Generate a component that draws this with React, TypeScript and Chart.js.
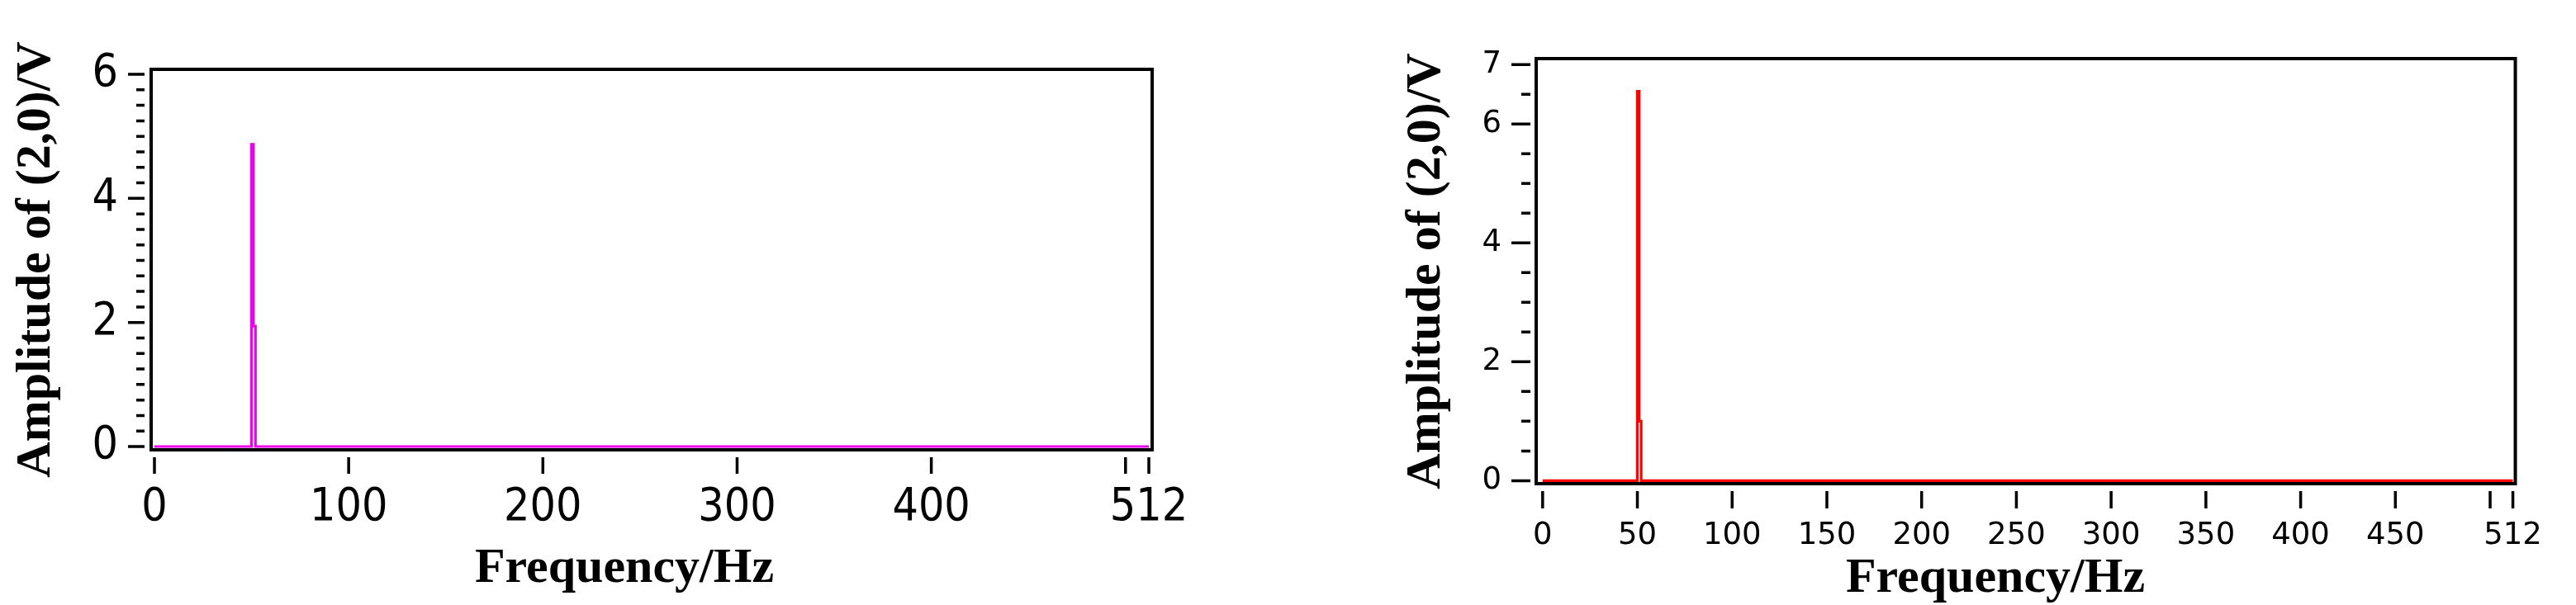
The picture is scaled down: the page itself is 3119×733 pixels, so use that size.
import React, { useEffect, useRef } from 'react';
import { Chart, registerables } from 'chart.js';

Chart.register(...registerables);

// ---- data ----
const freqLeft = [0, 49, 50, 51, 52, 512];
const ampLeft = [0, 0, 4.87, 1.94, 0, 0];
const freqRight = [0, 49, 50, 51, 52, 512];
const ampRight = [0, 0, 6.55, 1.0, 0, 0];

const xTicksLeft = [0, 100, 200, 300, 400, 500, 512];
const xLabelsLeft = [0, 100, 200, 300, 400, 512];
const yMajorLeft = [0, 2, 4, 6];
const yMinorStepLeft = 0.25;

const xTicksRight = [0, 50, 100, 150, 200, 250, 300, 350, 400, 450, 500, 512];
const xLabelsRight = [0, 50, 100, 150, 200, 250, 300, 350, 400, 450, 512];
const yMajorRight = [0, 2, 4, 6, 7];
const yMinorStepRight = 0.5;

const xTitle = 'Frequency/Hz';
const yTitle = 'Amplitude of (2,0)/V';

function buildMinor(majors: number[], step: number) {
  const out: number[] = [];
  const max = Math.max(...majors);
  for (let i = 0; i * step <= max + 1e-9; i++) out.push(Math.round(i * step * 1000) / 1000);
  return out;
}

type Spec = any;

const leftSpec: Spec = {
  left: 0, w: 1560, h: 733,
  freq: freqLeft, amp: ampLeft, color: '#ee00ee',
  xTicks: xTicksLeft, xLabels: xLabelsLeft,
  yMajor: yMajorLeft, yStep: yMinorStepLeft,
  xMin: -1.7, xMax: 513.7, yMin: -0.053, yMax: 6.08,
  pad: { left: 0, top: 84, right: 165, bottom: 0 },
  yWidth: 183, xHeight: 188,
  tickFont: { family: "'DejaVu Sans Condensed', 'DejaVu Sans', sans-serif", size: 55 },
  yLabelPad: 40, xLabelPad: 38,
  yTitlePad: 8,
  yGap: 8, yMajorLen: 20, yMinorLen: 10, xGap: 9, xLen: 20,
  xTitleX: 756, xTitleBase: 705,
};

const rightSpec: Spec = {
  left: 1560, w: 1559, h: 733,
  freq: freqRight, amp: ampRight, color: '#ff0000',
  xTicks: xTicksRight, xLabels: xLabelsRight,
  yMajor: yMajorRight, yStep: yMinorStepRight,
  xMin: -3.4, xMax: 513.3, yMin: -0.05, yMax: 7.1,
  pad: { left: 0, top: 71, right: 51, bottom: 0 },
  yWidth: 300, xHeight: 147,
  tickFont: { family: "'DejaVu Sans', sans-serif", size: 37 },
  yLabelPad: 42, xLabelPad: 41,
  yTitlePad: 131,
  yGap: 7, yMajorLen: 23, yMinorLen: 11, xGap: 9, xLen: 21,
  xTitleX: 856, xTitleBase: 717,
};

function makePlugin(s: Spec) {
  return {
    id: 'frameTicks',
    afterDraw(chart: any) {
      const { ctx, chartArea: a, scales } = chart;
      ctx.save();
      ctx.strokeStyle = '#000';
      ctx.lineWidth = 4;
      ctx.strokeRect(a.left, a.top, a.right - a.left, a.bottom - a.top);
      ctx.lineWidth = 3.5;
      ctx.beginPath();
      const ys = scales.y;
      ys.ticks.forEach((t: any) => {
        const py = ys.getPixelForValue(t.value);
        const major = s.yMajor.includes(t.value);
        const len = major ? s.yMajorLen : s.yMinorLen;
        const x1 = a.left - s.yGap;
        ctx.moveTo(x1 - len, py);
        ctx.lineTo(x1, py);
      });
      const xs = scales.x;
      xs.ticks.forEach((t: any) => {
        const px = xs.getPixelForValue(t.value);
        const y1 = a.bottom + s.xGap;
        ctx.moveTo(px, y1);
        ctx.lineTo(px, y1 + s.xLen);
      });
      ctx.stroke();
      ctx.font = "bold 60px 'Liberation Serif', 'Times New Roman', serif";
      ctx.fillStyle = '#000';
      ctx.textAlign = 'center';
      ctx.textBaseline = 'alphabetic';
      ctx.fillText(xTitle, s.xTitleX, s.xTitleBase);
      ctx.restore();
    },
  };
}

function buildConfig(s: Spec): any {
  const yTicks = buildMinor(s.yMajor, s.yStep);
  const points = s.freq.map((f: number, i: number) => ({ x: f, y: s.amp[i] }));
  return {
    type: 'line',
    data: {
      datasets: [
        {
          data: points,
          borderColor: s.color,
          backgroundColor: s.color,
          borderWidth: 3.2,
          pointRadius: 0,
          tension: 0,
          stepped: 'before',
          borderJoinStyle: 'miter',
          fill: false,
        },
      ],
    },
    options: {
      responsive: false,
      animation: false,
      layout: { padding: s.pad },
      plugins: { legend: { display: false }, tooltip: { enabled: false }, title: { display: false } },
      scales: {
        x: {
          type: 'linear',
          min: s.xMin,
          max: s.xMax,
          afterFit: (sc: any) => { sc.height = s.xHeight; },
          afterBuildTicks: (sc: any) => { sc.ticks = s.xTicks.map((v: number) => ({ value: v })); },
          grid: { display: false, drawTicks: false },
          border: { display: false },
          ticks: {
            autoSkip: false,
            maxRotation: 0,
            minRotation: 0,
            padding: s.xLabelPad,
            color: '#000',
            font: s.tickFont,
            callback: (v: number) => (s.xLabels.includes(v) ? String(v) : ''),
          },
        },
        y: {
          type: 'linear',
          min: s.yMin,
          max: s.yMax,
          afterFit: (sc: any) => { sc.width = s.yWidth; },
          afterBuildTicks: (sc: any) => { sc.ticks = yTicks.map((v: number) => ({ value: v })); },
          grid: { display: false, drawTicks: false },
          border: { display: false },
          ticks: {
            autoSkip: false,
            padding: s.yLabelPad,
            color: '#000',
            font: s.tickFont,
            callback: (v: number) => (s.yMajor.includes(v) ? String(v) : ''),
          },
          title: {
            display: true,
            text: yTitle,
            color: '#000',
            font: { family: "'Liberation Serif', 'Times New Roman', serif", size: 60, weight: 'bold' },
            padding: { top: s.yTitlePad, bottom: 0 },
          },
        },
      },
    },
    plugins: [makePlugin(s)],
  };
}

function ChartBox({ spec }: { spec: Spec }) {
  const ref = useRef<HTMLCanvasElement | null>(null);
  useEffect(() => {
    const chart = new Chart(ref.current as HTMLCanvasElement, buildConfig(spec));
    return () => chart.destroy();
  }, [spec]);
  return (
    <canvas
      ref={ref}
      width={spec.w}
      height={spec.h}
      style={{ position: 'absolute', left: spec.left, top: 0, width: spec.w, height: spec.h }}
    />
  );
}

export default function App() {
  return (
    <div style={{ position: 'absolute', left: 0, top: 0, width: 3119, height: 733, background: '#fff', overflow: 'hidden' }}>
      <ChartBox spec={leftSpec} />
      <ChartBox spec={rightSpec} />
    </div>
  );
}
